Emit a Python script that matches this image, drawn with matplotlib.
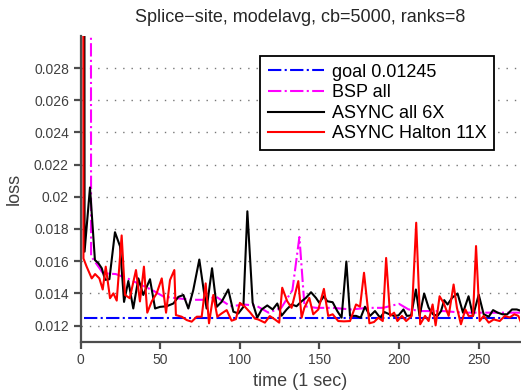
import matplotlib
matplotlib.use("Agg")
import matplotlib.pyplot as plt

plt.rcParams['font.family'] = ['Liberation Sans', 'DejaVu Sans']

# ---- data ----
goal_value = 0.01245
goal_t = [2.0, 277.0]

bsp_t = [6.3, 6.5, 8, 14, 22, 30, 38, 45, 52, 60, 70, 78, 85, 94, 103, 110, 118, 126,
         133, 137.4, 140.6, 148, 158, 170, 180, 190, 200, 206, 215, 228, 240, 255, 265, 277]
bsp_loss = [0.05, 0.0163, 0.0161, 0.01525, 0.0152, 0.0149, 0.01452, 0.0142, 0.0138, 0.0137,
            0.0136, 0.0136, 0.0138, 0.0132, 0.0133, 0.01325, 0.0128, 0.0131, 0.0142, 0.0175,
            0.0132, 0.0131, 0.0131, 0.0130, 0.0131, 0.0131, 0.01335, 0.0130, 0.0129, 0.0129,
            0.0128, 0.0128, 0.0128, 0.0128]

async_t = [2.2, 2.4, 5.8, 8.9, 11.1, 13.2, 15.3, 18.0, 21.5, 24.7, 27.2, 29.9, 33.0, 36.2,
           39.3, 43.5, 46.7, 49.8, 54.0, 58.2, 61.3, 64.5, 67.6, 70.7, 74.5, 77.4, 79.1,
           82.5, 85.4, 88.5, 92.7, 95.9, 99.0, 102.2, 104.7, 108.0, 110.9, 113.7, 117.2,
           120.6, 123.5, 126.2, 129.4, 132.5, 135.6, 138.8, 141.5, 144.7, 147.8, 149.9,
           152.8, 154.9, 158.3, 161.2, 163.9, 166.9, 169.2, 173.0, 175.9, 178.6, 181.8,
           184.9, 188.1, 190.8, 194.0, 196.9, 199.7, 202.8, 204.9, 207.6, 210.6, 212.9,
           215.8, 218.6, 221.3, 224.2, 226.4, 228.4, 230.5, 233.3, 236.8, 240.2, 243.7,
           246.5, 250.1, 253.2, 256.4, 259.1, 262.0, 265.0, 268.0, 271.0, 274.0, 277.0]
async_loss = [0.05, 0.01659, 0.02058, 0.01607, 0.01587, 0.01556, 0.01484, 0.01488, 0.0178,
              0.01692, 0.01347, 0.01477, 0.01306, 0.01493, 0.0139, 0.01488, 0.01306, 0.01316,
              0.0132, 0.01337, 0.01378, 0.0139, 0.01306, 0.0142, 0.0161, 0.0141, 0.01306,
              0.01556, 0.01316, 0.01347, 0.01424, 0.01286, 0.01275, 0.01316, 0.0191, 0.01343,
              0.01249, 0.0130, 0.01325, 0.0130, 0.01337, 0.01261, 0.0130, 0.01331, 0.0132,
              0.01351, 0.01372, 0.01407, 0.01372, 0.01341, 0.01382, 0.01351, 0.01345, 0.0129,
              0.01249, 0.01598, 0.0126, 0.0126, 0.01249, 0.01317, 0.0126, 0.0129, 0.01249,
              0.01284, 0.0127, 0.0126, 0.01263, 0.0130, 0.0126, 0.01263, 0.01424, 0.0126,
              0.01399, 0.01311, 0.0127, 0.0126, 0.0129, 0.01358, 0.01331, 0.01372, 0.01399,
              0.0128, 0.01382, 0.0126, 0.01392, 0.0127, 0.01255, 0.01296, 0.0128, 0.0127,
              0.0127, 0.0130, 0.0130, 0.0129]

halton_t = [1.5, 1.7, 3.7, 6.9, 9.0, 11.7, 13.8, 15.7, 18.4, 20.5, 22.6, 25.7, 27.8, 30.8,
            34.7, 37.2, 39.7, 41.8, 44.6, 47.7, 50.9, 53.6, 56.1, 58.8, 59.8, 63.4, 66.6,
            69.7, 72.9, 76.0, 78.5, 80.6, 83.3, 85.8, 88.5, 91.7, 94.8, 97.5, 100.0, 103.2,
            106.3, 109.5, 111.5, 115.7, 118.8, 122.0, 124.7, 126.6, 129.7, 132.5, 136.7,
            138.8, 140.5, 143.6, 146.1, 149.3, 152.8, 155.5, 158.3, 161.8, 165.4, 169.2,
            173.0, 175.5, 178.0, 181.4, 184.3, 187.0, 189.8, 191.9, 194.4, 196.9, 199.0,
            201.8, 204.5, 208.0, 210.8, 213.3, 216.4, 218.6, 221.1, 223.0, 225.5, 228.0,
            231.2, 234.3, 236.4, 238.9, 241.7, 243.7, 246.5, 248.4, 250.7, 253.2, 256.4,
            259.5, 263.3, 266.5, 269.5, 272.5, 275.0, 277.0]
halton_loss = [0.05, 0.01617, 0.01566, 0.01493, 0.0152, 0.01493, 0.01424, 0.01566, 0.0137,
               0.0140, 0.01355, 0.0176, 0.0139, 0.0137, 0.01545, 0.0135, 0.01566, 0.0128,
               0.0135, 0.0140, 0.01493, 0.0128, 0.01483, 0.01545, 0.01265, 0.01255, 0.01234,
               0.01224, 0.01255, 0.01255, 0.01462, 0.01214, 0.0139, 0.01255, 0.01275, 0.01296,
               0.0123, 0.0124, 0.01341, 0.01316, 0.01283, 0.01243, 0.01238, 0.01218, 0.01259,
               0.01238, 0.01218, 0.01435, 0.01352, 0.0131, 0.01476, 0.01249, 0.0131, 0.01372,
               0.0127, 0.0130, 0.01428, 0.0126, 0.0127, 0.01228, 0.01226, 0.01228, 0.01331,
               0.01317, 0.01528, 0.01214, 0.01222, 0.01249, 0.01228, 0.0162, 0.0126, 0.0128,
               0.01228, 0.0126, 0.01228, 0.0126, 0.01839, 0.01208, 0.0126, 0.01228, 0.01331,
               0.01201, 0.01382, 0.01341, 0.0126, 0.01455, 0.0131, 0.01208, 0.0130, 0.0126,
               0.0126, 0.01694, 0.01228, 0.0126, 0.01218, 0.01238, 0.01228, 0.0126, 0.0125,
               0.0127, 0.0126, 0.0121]

yticks = [0.012, 0.014, 0.016, 0.018, 0.020, 0.022, 0.024, 0.026, 0.028]
ytick_labels = ['0.012', '0.014', '0.016', '0.018', '0.02', '0.022', '0.024', '0.026', '0.028']
xticks = [0, 50, 100, 150, 200, 250]

# ---- figure ----
fig = plt.figure(figsize=(5.21, 3.90), dpi=100)
ax = fig.add_axes([0.155, 0.124, 0.843, 0.784])

ax.plot(goal_t, [goal_value] * len(goal_t), color='#0000ff', ls='-.', lw=1.5,
        label='goal 0.01245')
ax.plot(bsp_t, bsp_loss, color='#ff00ff', ls='-.', lw=1.5, label='BSP all')
ax.plot(async_t, async_loss, color='black', lw=1.5, label='ASYNC all 6X')
ax.plot(halton_t, halton_loss, color='#ff0000', lw=1.5, label='ASYNC Halton 11X')

ax.set_xlim(0, 276)
ax.set_ylim(0.011, 0.03)
ax.set_xticks(xticks)
ax.set_yticks(yticks)
ax.set_yticklabels(ytick_labels)

for s in ['top', 'right']:
    ax.spines[s].set_visible(False)
for s in ['left', 'bottom']:
    ax.spines[s].set_color('#4d4d4d')
    ax.spines[s].set_linewidth(1.6)
ax.tick_params(direction='out', length=5, width=1.6, color='#4d4d4d',
               labelsize=10, labelcolor='#404040')

ax.yaxis.grid(True, ls=(0, (1, 5)), color='#777777', lw=1)
ax.set_axisbelow(True)

ax.set_title('Splice\u2212site, modelavg, cb=5000, ranks=8', fontsize=13,
             color='#262626', pad=10)
ax.set_xlabel('time (1 sec)', fontsize=13, color='#404040', labelpad=4)
ax.set_ylabel('loss', fontsize=13, color='#404040', labelpad=8)

leg = ax.legend(loc='upper right', bbox_to_anchor=(0.941, 0.934), fontsize=13,
                fancybox=False, framealpha=1, edgecolor='black', handlelength=3.1,
                handletextpad=0.45, borderpad=0.42, labelspacing=0.2,
                borderaxespad=0)
leg.get_frame().set_linewidth(1.3)

fig.savefig('out.png', dpi=100)
